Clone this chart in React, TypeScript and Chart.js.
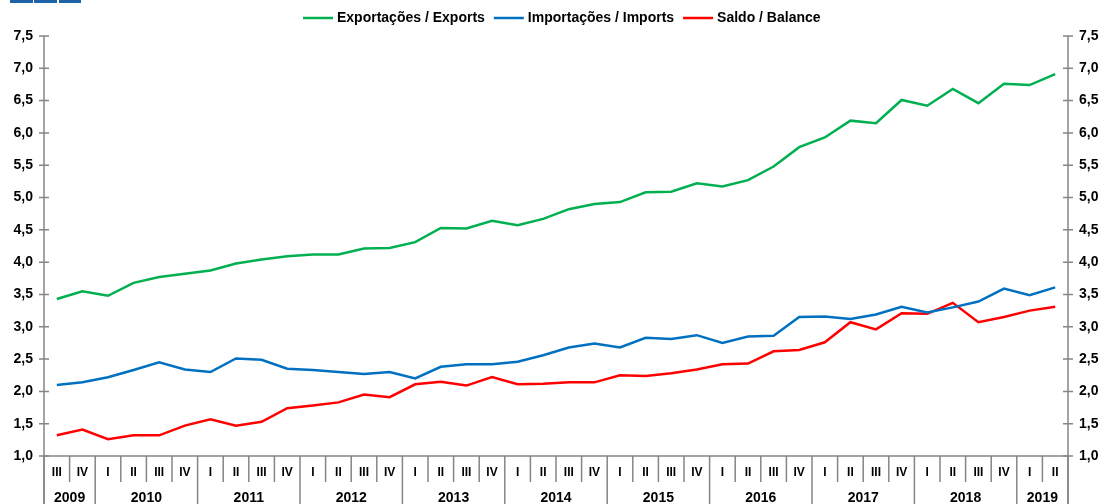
import React, { useEffect, useRef } from "react";
import { Chart, registerables } from "chart.js";

Chart.register(...registerables);

const quarterLabels: string[] = [
  "III", "IV",
  "I", "II", "III", "IV",
  "I", "II", "III", "IV",
  "I", "II", "III", "IV",
  "I", "II", "III", "IV",
  "I", "II", "III", "IV",
  "I", "II", "III", "IV",
  "I", "II", "III", "IV",
  "I", "II", "III", "IV",
  "I", "II", "III", "IV",
  "I", "II",
];

const yearLabels: string[] = ["2009", "2010", "2011", "2012", "2013", "2014", "2015", "2016", "2017", "2018", "2019"];
const yearSpans: number[] = [2, 4, 4, 4, 4, 4, 4, 4, 4, 4, 2];

const exportsSeries: number[] = [
  3.43, 3.55, 3.48, 3.68, 3.77, 3.82, 3.87, 3.98, 4.04, 4.09,
  4.12, 4.12, 4.21, 4.22, 4.31, 4.53, 4.52, 4.64, 4.57, 4.67,
  4.82, 4.90, 4.93, 5.08, 5.09, 5.22, 5.17, 5.27, 5.48, 5.78,
  5.93, 6.19, 6.15, 6.51, 6.42, 6.68, 6.46, 6.76, 6.74, 6.91,
];

const importsSeries: number[] = [
  2.10, 2.14, 2.22, 2.33, 2.45, 2.34, 2.30, 2.51, 2.49, 2.35,
  2.33, 2.30, 2.27, 2.30, 2.20, 2.38, 2.42, 2.42, 2.46, 2.56,
  2.68, 2.74, 2.68, 2.83, 2.81, 2.87, 2.75, 2.85, 2.86, 3.15,
  3.16, 3.12, 3.19, 3.31, 3.22, 3.30, 3.39, 3.59, 3.49, 3.61,
];

const balanceSeries: number[] = [
  1.32, 1.41, 1.26, 1.32, 1.32, 1.47, 1.57, 1.47, 1.53, 1.74,
  1.78, 1.83, 1.95, 1.91, 2.11, 2.15, 2.09, 2.22, 2.11, 2.12,
  2.14, 2.14, 2.25, 2.24, 2.28, 2.34, 2.42, 2.43, 2.62, 2.64,
  2.76, 3.07, 2.96, 3.21, 3.20, 3.37, 3.07, 3.15, 3.25, 3.31,
];

const seriesNames: string[] = ["Exportações / Exports", "Importações / Imports", "Saldo / Balance"];
const seriesColors: string[] = ["#00B050", "#0070C0", "#FF0000"];

const FONT = '"Liberation Sans", Arial, sans-serif';
const AXIS_COLOR = "#858585";

const decorPlugin = {
  id: "decor",
  afterDraw(chart: any) {
    const ctx = chart.ctx as CanvasRenderingContext2D;
    const { left, right, top, bottom } = chart.chartArea;
    const H = chart.height;
    const yScale = chart.scales.y;
    const xScale = chart.scales.x;
    const n = quarterLabels.length;
    const cw = (right - left) / n;

    ctx.save();
    ctx.strokeStyle = AXIS_COLOR;
    ctx.lineWidth = 1.5;

    // vertical axes
    ctx.beginPath();
    ctx.moveTo(left, top);
    ctx.lineTo(left, H);
    ctx.moveTo(right, top);
    ctx.lineTo(right, H);
    // bottom axis
    ctx.moveTo(left, bottom);
    ctx.lineTo(right, bottom);
    ctx.stroke();

    // y ticks
    ctx.beginPath();
    yScale.ticks.forEach((t: any) => {
      const y = yScale.getPixelForValue(t.value);
      ctx.moveTo(left - 5, y);
      ctx.lineTo(left + 5, y);
      ctx.moveTo(right - 5, y);
      ctx.lineTo(right + 5, y);
    });
    ctx.stroke();

    // category separators
    const yearBounds = new Set<number>();
    let acc = 0;
    yearBounds.add(0);
    yearSpans.forEach((s) => {
      acc += s;
      yearBounds.add(acc);
    });
    ctx.beginPath();
    for (let i = 0; i <= n; i++) {
      const x = left + i * cw;
      ctx.moveTo(x, bottom);
      ctx.lineTo(x, yearBounds.has(i) ? H : bottom + 26);
    }
    ctx.stroke();

    // quarter labels
    ctx.fillStyle = "#000";
    ctx.textAlign = "center";
    ctx.textBaseline = "middle";
    ctx.font = `bold 12px ${FONT}`;
    quarterLabels.forEach((q, i) => {
      ctx.fillText(q, xScale.getPixelForValue(i), 473);
    });

    // year labels
    ctx.font = `bold 14px ${FONT}`;
    let start = 0;
    yearLabels.forEach((yl, k) => {
      const span = yearSpans[k];
      const cx = left + (start + span / 2) * cw;
      ctx.fillText(yl, cx, 498);
      start += span;
    });

    // legend
    ctx.font = `bold 14px ${FONT}`;
    ctx.textAlign = "left";
    let lx = 303;
    const ly = 18;
    seriesNames.forEach((name, k) => {
      ctx.strokeStyle = seriesColors[k];
      ctx.lineWidth = 2.5;
      ctx.beginPath();
      ctx.moveTo(lx, ly);
      ctx.lineTo(lx + 30, ly);
      ctx.stroke();
      ctx.fillStyle = "#000";
      ctx.fillText(name, lx + 34, ly);
      lx += 34 + ctx.measureText(name).width + 9;
    });

    ctx.restore();
  },
};

export default function App() {
  const canvasRef = useRef<HTMLCanvasElement | null>(null);

  useEffect(() => {
    if (!canvasRef.current) return;
    const yTickOpts = {
      stepSize: 0.5,
      padding: 11,
      color: "#000",
      font: { family: FONT, size: 14, weight: "bold" as const },
      callback: (v: any) => Number(v).toFixed(1).replace(".", ","),
    };
    const chart = new Chart(canvasRef.current, {
      type: "line",
      data: {
        labels: quarterLabels.map((q, i) => `${q}-${i}`),
        datasets: [
          { label: seriesNames[0], data: exportsSeries, borderColor: seriesColors[0], backgroundColor: seriesColors[0], borderWidth: 2.5, pointRadius: 0, tension: 0, yAxisID: "y" },
          { label: seriesNames[1], data: importsSeries, borderColor: seriesColors[1], backgroundColor: seriesColors[1], borderWidth: 2.5, pointRadius: 0, tension: 0, yAxisID: "y" },
          { label: seriesNames[2], data: balanceSeries, borderColor: seriesColors[2], backgroundColor: seriesColors[2], borderWidth: 2.5, pointRadius: 0, tension: 0, yAxisID: "y" },
        ],
      },
      options: {
        responsive: false,
        animation: false,
        devicePixelRatio: 1,
        layout: { padding: { top: 36, left: 0, right: 0, bottom: 0 } },
        plugins: {
          legend: { display: false },
          title: { display: false },
          tooltip: { enabled: false },
        },
        scales: {
          x: {
            type: "category",
            offset: true,
            ticks: { display: false },
            grid: { display: false, drawTicks: false },
            border: { display: false },
            afterFit: (s: any) => { s.height = 48; },
          },
          y: {
            type: "linear",
            position: "left",
            min: 1,
            max: 7.5,
            ticks: yTickOpts,
            grid: { display: false, drawTicks: false, tickLength: 0 },
            border: { display: false },
            afterFit: (s: any) => { s.width = 44; },
          },
          y2: {
            type: "linear",
            position: "right",
            min: 1,
            max: 7.5,
            ticks: yTickOpts,
            grid: { display: false, drawTicks: false, tickLength: 0 },
            border: { display: false },
            afterFit: (s: any) => { s.width = 39; },
          },
        },
      },
      plugins: [decorPlugin],
    });
    return () => chart.destroy();
  }, []);

  const boxStyle = (x: number, w: number): React.CSSProperties => ({
    position: "absolute",
    left: x,
    top: 0,
    width: w,
    height: 3,
    background: "#1F62A8",
  });

  return (
    <div style={{ position: "fixed", left: 0, top: 0, width: 1107, height: 504, background: "#fff", overflow: "hidden" }}>
      <canvas ref={canvasRef} width={1107} height={504} style={{ display: "block" }} />
      <div style={boxStyle(10, 23)} />
      <div style={boxStyle(34, 23)} />
      <div style={boxStyle(59, 22)} />
    </div>
  );
}
